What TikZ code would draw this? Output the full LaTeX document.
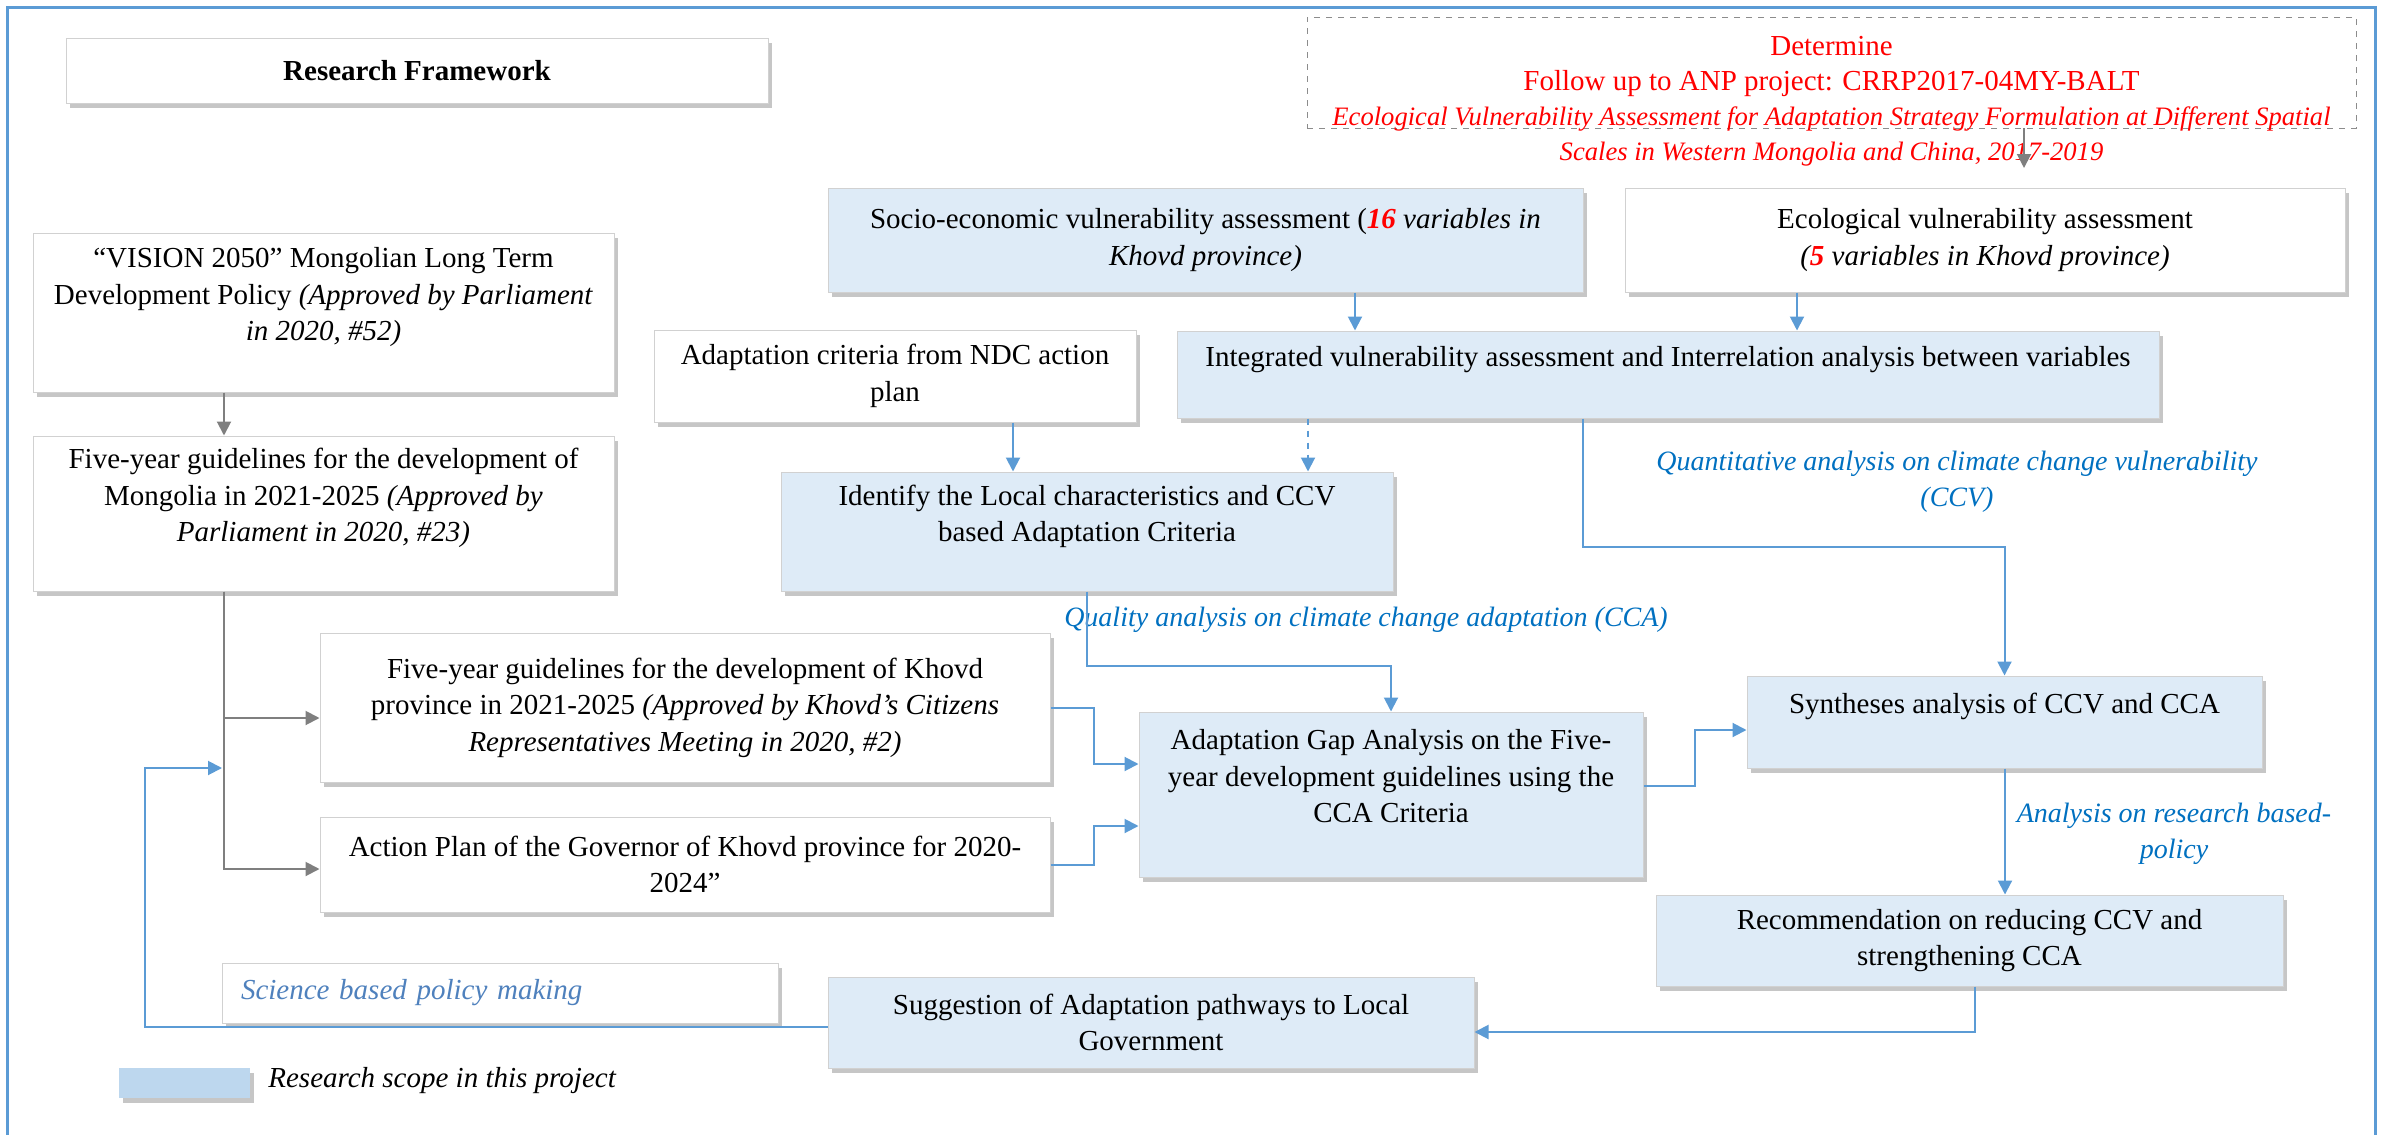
\documentclass[tikz,border=0pt]{standalone}
\usepackage{fontspec}
\setmainfont{Liberation Serif}
\usetikzlibrary{arrows.meta,shadows}
\definecolor{boxblue}{RGB}{222,235,247}
\definecolor{keyblue}{RGB}{189,215,238}
\definecolor{lineblue}{RGB}{91,155,213}
\definecolor{textblue}{RGB}{0,112,192}
\definecolor{softblue}{RGB}{79,129,189}
\definecolor{linegrey}{RGB}{127,127,127}
\tikzset{
  box/.style={draw=black!18, line width=0.5pt, fill=white, align=center, inner sep=2pt,
    font=\fontsize{14.5}{18.25}\selectfont,
    drop shadow={shadow xshift=2pt, shadow yshift=-2.5pt, fill=black!50, opacity=0.45}},
  bluebox/.style={box, fill=boxblue},
  lbl/.style={align=center, text=textblue, font=\fontsize{14}{18.25}\selectfont\itshape},
  barrow/.style={draw=lineblue, line width=1pt, -{Triangle[length=7pt,width=7pt]}},
  garrow/.style={draw=linegrey, line width=1pt, -{Triangle[length=7pt,width=7pt]}},
}
\begin{document}
\begin{tikzpicture}[x=0.5pt, y=-0.5pt]
\useasboundingbox (0,0) rectangle (2384,1135);
% frame
\draw[lineblue, line width=1.5pt] (7,1140) -- (7,7) -- (2375,7) -- (2375,1140);

% title and follow-up note
\node[box, minimum width=351pt, minimum height=32.5pt, font=\fontsize{14.5}{18}\selectfont\bfseries] (title) at (417,70.5) {Research Framework};
\node[draw=black!45, dashed, minimum width=524.5pt, minimum height=55.5pt] (anpbox) at (1831.5,72.5) {};
\node[align=center, text=red, font=\fontsize{14.5}{17.5}\selectfont] (anp) at (1831.5,101) {Determine\\Follow up to ANP project: CRRP2017-04MY-BALT\\{\fontsize{13.3}{16.5}\selectfont\itshape Ecological Vulnerability Assessment for Adaptation Strategy Formulation at Different Spatial}\\{\fontsize{13.3}{16.5}\selectfont\itshape Scales in Western Mongolia and China, 2017-2019}};
\coordinate (anpend) at (2024,168);

% policy documents
\node[box, minimum width=290.5pt, minimum height=79.5pt] (vision) at (323.5,312.5) {“VISION 2050” Mongolian Long Term\\Development Policy \textit{(Approved by Parliament}\\\textit{in 2020, \#52)}\\~};
\node[box, minimum width=290.5pt, minimum height=77.5pt] (mongolia) at (323.5,513.5) {Five-year guidelines for the development of\\Mongolia in 2021-2025 \textit{(Approved by}\\\textit{Parliament in 2020, \#23)}\\~};
\node[box, minimum width=365pt, minimum height=74.5pt] (khovd) at (685,707.5) {Five-year guidelines for the development of Khovd\\province in 2021-2025 \textit{(Approved by Khovd’s Citizens}\\\textit{Representatives Meeting in 2020, \#2)}};
\node[box, minimum width=365pt, minimum height=47.5pt] (action) at (685,864.5) {Action Plan of the Governor of Khovd province for 2020-\\2024”};
\node[box, minimum width=278pt, minimum height=30pt, text width=259pt, align=left, inner xsep=9.5pt, text=softblue, font=\fontsize{14.5}{18.25}\selectfont\itshape] (science) at (500,993) {Science based policy making};

% assessments
\node[bluebox, minimum width=377.5pt, minimum height=52pt] (socio) at (1205.5,240) {Socio-economic vulnerability assessment (\textit{\textcolor{red}{\textbf{16}} variables in}\\\textit{Khovd province)}};
\node[box, minimum width=360pt, minimum height=52pt] (eco) at (1985,240) {Ecological vulnerability assessment\\\textit{(\textcolor{red}{\textbf{5}} variables in Khovd province)}};
\node[bluebox, minimum width=491pt, minimum height=43.5pt] (integ) at (1668,374.5) {Integrated vulnerability assessment and Interrelation analysis between variables\\~};
\node[box, minimum width=241pt, minimum height=46pt] (ndc) at (895,376) {Adaptation criteria from NDC action\\plan};
\node[bluebox, minimum width=306pt, minimum height=59.5pt] (ident) at (1087,531.5) {Identify the Local characteristics and CCV\\based Adaptation Criteria\\~};
\node[bluebox, minimum width=252pt, minimum height=82.5pt] (gap) at (1391,794.5) {Adaptation Gap Analysis on the Five-\\year development guidelines using the\\CCA Criteria\\~};
\node[bluebox, minimum width=257.5pt, minimum height=46pt] (synth) at (2004.5,722) {Syntheses analysis of CCV and CCA\\~};
\node[bluebox, minimum width=313.5pt, minimum height=45.5pt] (recom) at (1969.5,940.5) {Recommendation on reducing CCV and\\strengthening CCA};
\node[bluebox, minimum width=323pt, minimum height=45.5pt] (sugg) at (1151,1022.5) {Suggestion of Adaptation pathways to Local\\Government};

% arrow labels
\node[lbl] (quant) at (1957,482) {Quantitative analysis on climate change vulnerability\\(CCV)};
\node[lbl] (quality) at (1366,620) {Quality analysis on climate change adaptation (CCA)};
\node[lbl] (respol) at (2174,834) {Analysis on research based-\\policy};

% legend
\node[fill=keyblue, minimum width=65.5pt, minimum height=15pt, drop shadow={shadow xshift=2pt, shadow yshift=-2.5pt, fill=black!50, opacity=0.45}] (key) at (184.5,1083) {};
\node[anchor=west, inner sep=0pt, font=\fontsize{14.5}{18.25}\selectfont\itshape] (keytxt) at (268,1081) {Research scope in this project};

% grey connectors
\draw[garrow] (anpend |- anpbox.south) -- (anpend);
\draw[garrow] (224,0 |- vision.south) -- (224,0 |- mongolia.north);
\draw[garrow] (224,0 |- mongolia.south) |- (khovd.west |- 0,718);
\draw[garrow] (224,0 |- mongolia.south) |- (action.west |- 0,869);

% blue connectors
\draw[barrow] (1355,0 |- socio.south) -- (1355,0 |- integ.north);
\draw[barrow] (1797,0 |- eco.south) -- (1797,0 |- integ.north);
\draw[barrow] (1013,0 |- ndc.south) -- (1013,0 |- ident.north);
\draw[barrow, dashed] (1308,0 |- integ.south) -- (1308,0 |- ident.north);
\draw[barrow] (1583,0 |- integ.south) -- (1583,547) -| (synth.north);
\draw[barrow] (ident.south) -- (1087,666) -| (gap.north);
\draw[barrow] (khovd.east) -- (1094,0 |- khovd.east) |- (gap.west |- 0,764);
\draw[barrow] (action.east) -- (1094,0 |- action.east) |- (gap.west |- 0,826);
\draw[barrow] (gap.east |- 0,786) -- (1695,786) |- (synth.west |- 0,730);
\draw[barrow] (2005,0 |- synth.south) -- (2005,0 |- recom.north);
\draw[barrow] (1975,0 |- recom.south) |- (sugg.east |- 0,1032);
\coordinate (join) at (222,768);
\draw[barrow] (sugg.west |- 0,1027) -- (145,1027) |- (join);
\end{tikzpicture}
\end{document}
